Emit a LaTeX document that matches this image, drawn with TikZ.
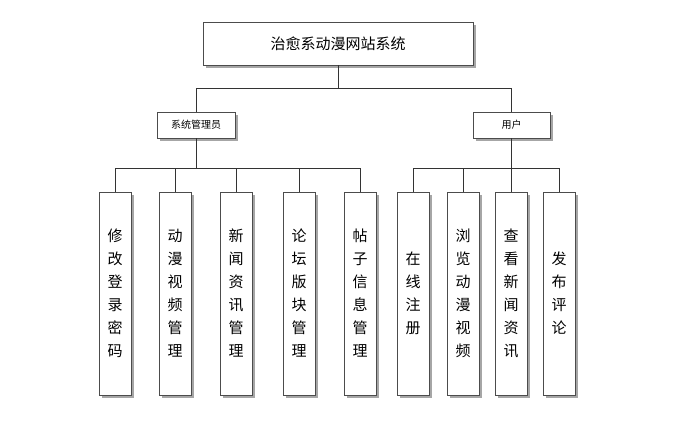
\documentclass[tikz,border=0pt]{standalone}
\usepackage{fontspec}
\newfontfamily\cjk{Noto Sans CJK SC}
\usetikzlibrary{shadows}
\begin{document}
\begin{tikzpicture}[x=1pt,y=-1pt,
 sh/.style={drop shadow={shadow xshift=3pt,shadow yshift=-3pt,fill=gray!70,opacity=1}},
 box/.style={draw=black!70,fill=white,sh,font=\cjk,inner sep=0pt},
 leaf/.style={box,minimum width=32pt,minimum height=203pt,font=\cjk\fontsize{15}{23}\selectfont,align=center},
 ln/.style={draw=black!80,line width=0.6pt}]
\useasboundingbox (0,0) rectangle (693,434);
\node[box,minimum width=270pt,minimum height=43pt,font=\cjk\fontsize{15}{18}\selectfont] (top) at (338,43.5) {治愈系动漫网站系统};
\node[box,minimum width=78pt,minimum height=26pt,font=\cjk\fontsize{10}{12}\selectfont] (adm) at (196,125) {系统管理员};
\node[box,minimum width=77pt,minimum height=26pt,font=\cjk\fontsize{10}{12}\selectfont] (usr) at (511.5,125) {用户};
\foreach \n/\x/\t in {a1/115/修\\改\\登\\录\\密\\码,a2/175/动\\漫\\视\\频\\管\\理,a3/236/新\\闻\\资\\讯\\管\\理,a4/299/论\\坛\\版\\块\\管\\理,a5/360/帖\\子\\信\\息\\管\\理,u1/413/在\\线\\注\\册,u2/463/浏\\览\\动\\漫\\视\\频,u3/511/查\\看\\新\\闻\\资\\讯,u4/559/发\\布\\评\\论}
  \node[leaf] (\n) at (\x,293.5) {\t};
\coordinate (j1) at (338,88);
\draw[ln] (top.south) -- (j1);
\draw[ln] (adm.north) -- (adm.north |- j1) -- (usr.north |- j1) -- (usr.north);
\coordinate (j2) at (196,168);
\draw[ln] (adm.south) -- (j2);
\draw[ln] (a1.north) -- (a1.north |- j2) -- (a5.north |- j2) -- (a5.north);
\foreach \n in {a2,a3,a4} \draw[ln] (\n.north |- j2) -- (\n.north);
\coordinate (j3) at (511.5,168);
\draw[ln] (usr.south) -- (j3);
\draw[ln] (u1.north) -- (u1.north |- j3) -- (u4.north |- j3) -- (u4.north);
\foreach \n in {u2,u3} \draw[ln] (\n.north |- j3) -- (\n.north);
\end{tikzpicture}
\end{document}
